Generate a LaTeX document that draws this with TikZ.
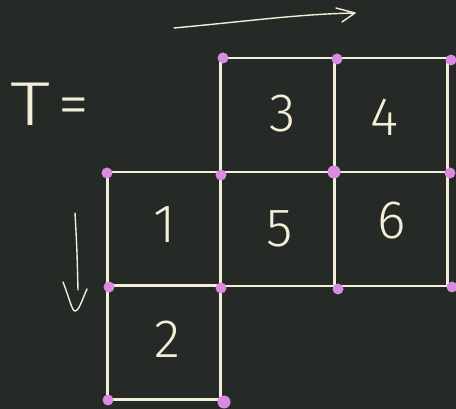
\documentclass[tikz,border=0pt]{standalone}
\usepackage{fontspec}
\setmainfont{Fira Sans}[UprightFont=* Light]
\definecolor{bg}{HTML}{262A27}
\definecolor{chalk}{HTML}{F3EED8}
\definecolor{dotpink}{HTML}{DA8BDF}
\begin{document}
\begin{tikzpicture}[x=1pt,y=-1pt,
  cell/.style={draw=chalk, line width=2.6pt, minimum width=113.5pt, minimum height=114pt,
    inner sep=0pt, outer sep=0pt},
  digit/.style={text=chalk, inner sep=0pt, font=\fontsize{54}{54}\selectfont},
  pdot/.style={circle, fill=dotpink, inner sep=0pt, minimum size=11pt},
  stroke/.style={draw=chalk, line width=1.4pt, line cap=round, line join=round}]
\fill[bg] (0,0) rectangle (456,409);
\useasboundingbox (0,0) rectangle (456,409);
% cells
\node[cell] (c3) at (277.5,115) {};
\node[cell] (c4) at (391,115) {};
\node[cell] (c1) at (164,229) {};
\node[cell] (c5) at (277.5,229) {};
\node[cell] (c6) at (391,229) {};
\node[cell] (c2) at (164,342.5) {};
% digits
\node[digit] (n3) at (283,114) {3};
\node[digit] (n4) at (384,117) {4};
\node[digit] (n1) at (165,225) {1};
\node[digit] (n5) at (280,229) {5};
\node[digit] (n6) at (392,221) {6};
\node[digit] (n2) at (167,339) {2};
% label
\node[anchor=base west, text=chalk, inner sep=0pt, font=\fontsize{62}{62}\selectfont] (tlabel) at (10,126) {\scalebox{1.3}[1]{T}\hspace{8pt}=};
% dots
\node[pdot] (p1) at (223,58) {};
\node[pdot] (p2) at (337,59) {};
\node[pdot] (p3) at (451,60) {};
\node[pdot] (p4) at (107,173) {};
\node[pdot] (p5) at (221,175) {};
\node[pdot, minimum size=13pt] (p6) at (334,172) {};
\node[pdot] (p7) at (450,173) {};
\node[pdot] (p8) at (109,287) {};
\node[pdot] (p9) at (221,288) {};
\node[pdot] (p10) at (338,289) {};
\node[pdot] (p11) at (452,287) {};
\node[pdot] (p12) at (108,400) {};
\node[pdot, minimum size=13pt] (p13) at (224,402) {};
% arrows
\coordinate (ha) at (174,28);
\coordinate (hb) at (355,13);
\draw[stroke] (ha) .. controls (250,21) and (300,14) .. (hb);
\draw[stroke] (336,8) -- (hb) -- (342,22);
\coordinate (va) at (75,213);
\coordinate (vb) at (78,290);
\draw[stroke] (va) .. controls (77,250) .. (vb);
\draw[stroke] (63,282) .. controls (70,300) and (72,311) .. (75,311) .. controls (79,311) and (82,300) .. (87,289);
\end{tikzpicture}
\end{document}
